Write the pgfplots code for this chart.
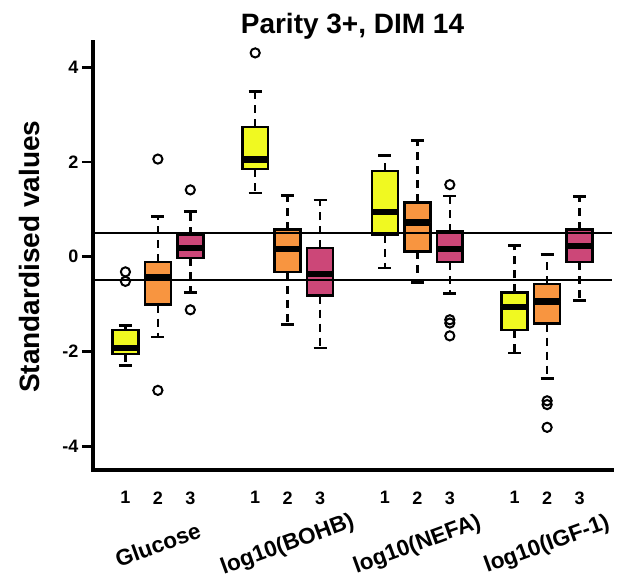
\documentclass[border=0pt]{standalone}
\usepackage{pgfplots}
\pgfplotsset{compat=1.18}
\usepgfplotslibrary{statistics}
\usepackage{fontspec}
\setmainfont{Liberation Sans}
\definecolor{cyel}{HTML}{F0F921}
\definecolor{cora}{HTML}{F89540}
\definecolor{cmag}{HTML}{CC4778}
\pgfplotsset{
  rbox/.style={
    boxplot prepared={#1},
    draw=black, line width=2.6pt,
    mark=o, mark size=4.6pt,
    mark options={solid, draw=black, fill=none, line width=2pt},
  },
}
\tikzset{glab/.style={yshift=-75pt, rotate=20, font=\bfseries\fontsize{22.5}{22.5}\selectfont}}
\begin{document}
\begin{tikzpicture}
\begin{axis}[
  scale only axis, width=519pt, height=428pt,
  xmin=0, xmax=16, ymin=-4.5, ymax=4.53,
  clip=false,
  axis x line=bottom, axis y line=left,
  axis line style={-, line width=3.2pt, line cap=rect},
  xtick={1,2,3,5,6,7,9,10,11,13,14,15},
  xticklabels={1,2,3,1,2,3,1,2,3,1,2,3},
  xtick style={draw=none},
  xticklabel style={yshift=-7pt},
  ytick={-4,-2,0,2,4},
  yticklabels={-4,-2,0,2,4},
  ytick style={line width=2.8pt, black},
  tick align=outside,
  major tick length=11pt,
  ticklabel style={font=\bfseries\fontsize{18}{18}\selectfont},
  boxplot/draw direction=y,
  boxplot/box extend=0.8,
  boxplot/whisker extend=0.4,
  boxplot/every median/.style={line width=6.5pt},
  boxplot/draw/lower whisker/.code={%
    \draw[fill=none, line width=2.4pt, dash pattern=on 8pt off 6pt]
      (boxplot cs:\pgfplotsboxplotvalue{lower quartile}) -- (boxplot cs:\pgfplotsboxplotvalue{lower whisker});
    \draw[fill=none, solid, line width=2.6pt]
      (boxplot whisker cs:\pgfplotsboxplotvalue{lower whisker},0) -- (boxplot whisker cs:\pgfplotsboxplotvalue{lower whisker},1);
  },
  boxplot/draw/upper whisker/.code={%
    \draw[fill=none, line width=2.4pt, dash pattern=on 8pt off 6pt]
      (boxplot cs:\pgfplotsboxplotvalue{upper quartile}) -- (boxplot cs:\pgfplotsboxplotvalue{upper whisker});
    \draw[fill=none, solid, line width=2.6pt]
      (boxplot whisker cs:\pgfplotsboxplotvalue{upper whisker},0) -- (boxplot whisker cs:\pgfplotsboxplotvalue{upper whisker},1);
  },
]
% Glucose
\addplot[rbox={draw position=1, lower whisker=-2.29, lower quartile=-2.05, median=-1.93, upper quartile=-1.55, upper whisker=-1.45}, fill=cyel]
  coordinates {(0,-0.32) (0,-0.52)};
\addplot[rbox={draw position=2, lower whisker=-1.69, lower quartile=-1.01, median=-0.43, upper quartile=-0.11, upper whisker=0.85}, fill=cora]
  coordinates {(0,2.06) (0,-2.82)};
\addplot[rbox={draw position=3, lower whisker=-0.75, lower quartile=-0.03, median=0.18, upper quartile=0.46, upper whisker=0.96}, fill=cmag]
  coordinates {(0,1.41) (0,-1.12)};
% log10(BOHB)
\addplot[rbox={draw position=5, lower whisker=1.34, lower quartile=1.85, median=2.05, upper quartile=2.74, upper whisker=3.49}, fill=cyel]
  coordinates {(0,4.30)};
\addplot[rbox={draw position=6, lower whisker=-1.43, lower quartile=-0.32, median=0.16, upper quartile=0.57, upper whisker=1.29}, fill=cora]
  coordinates {};
\addplot[rbox={draw position=7, lower whisker=-1.93, lower quartile=-0.82, median=-0.36, upper quartile=0.18, upper whisker=1.20}, fill=cmag]
  coordinates {};
% log10(NEFA)
\addplot[rbox={draw position=9, lower whisker=-0.24, lower quartile=0.46, median=0.94, upper quartile=1.81, upper whisker=2.14}, fill=cyel]
  coordinates {};
\addplot[rbox={draw position=10, lower whisker=-0.54, lower quartile=0.11, median=0.72, upper quartile=1.15, upper whisker=2.45}, fill=cora]
  coordinates {};
\addplot[rbox={draw position=11, lower whisker=-0.78, lower quartile=-0.11, median=0.16, upper quartile=0.53, upper whisker=1.28}, fill=cmag]
  coordinates {(0,1.52) (0,-1.33) (0,-1.40) (0,-1.67)};
% log10(IGF-1)
\addplot[rbox={draw position=13, lower whisker=-2.03, lower quartile=-1.55, median=-1.06, upper quartile=-0.75, upper whisker=0.24}, fill=cyel]
  coordinates {};
\addplot[rbox={draw position=14, lower whisker=-2.57, lower quartile=-1.41, median=-0.94, upper quartile=-0.58, upper whisker=0.05}, fill=cora]
  coordinates {(0,-3.04) (0,-3.12) (0,-3.60)};
\addplot[rbox={draw position=15, lower whisker=-0.92, lower quartile=-0.11, median=0.23, upper quartile=0.57, upper whisker=1.27}, fill=cmag]
  coordinates {};
% reference lines
\addplot[black, line width=2pt] coordinates {(0,0.5) (16,0.5)};
\addplot[black, line width=2pt] coordinates {(0,-0.5) (16,-0.5)};
% texts
\node[anchor=base, font=\bfseries\fontsize{28}{28}\selectfont] at (rel axis cs:0.5,1) [yshift=8.7pt] {Parity 3+, DIM 14};
\node[xshift=-53pt, anchor=base, rotate=90, font=\bfseries\fontsize{28}{28}\selectfont] at (axis cs:0,0) {Standardised values};
\node[glab] at (axis cs:2,-4.5) {Glucose};
\node[glab] at (axis cs:6,-4.5) {log10(BOHB)};
\node[glab] at (axis cs:10,-4.5) {log10(NEFA)};
\node[glab] at (axis cs:14,-4.5) {log10(IGF-1)};
\end{axis}
\pgfresetboundingbox
\path (-93pt,-115pt) rectangle (526pt,470pt);
\end{tikzpicture}
\end{document}
